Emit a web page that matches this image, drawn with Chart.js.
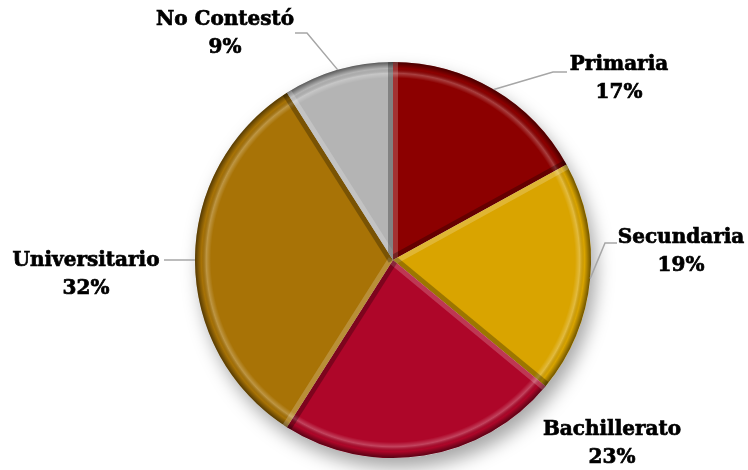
<!DOCTYPE html>
<html>
<head>
<meta charset="utf-8">
<script src="https://cdn.jsdelivr.net/npm/chart.js@4/dist/chart.umd.min.js"></script>
<style>
  html, body { margin: 0; padding: 0; background: #fff; }
  #wrap { width: 748px; height: 470px; position: relative; }
</style>
</head>
<body>
<div id="wrap"><canvas id="chart"></canvas></div>
<script>
var categories = ["Primaria", "Secundaria", "Bachillerato", "Universitario", "No Contestó"];
var percents = [17, 19, 23, 32, 9];
var sliceColors = ["#8c0000", "#d9a400", "#ae0629", "#a87306", "#b4b4b4"];

// where each label goes, relative to the pie centre (first text line centre),
// plus the leader elbow/end points (null = no leader)
var labelSpots = [
  { dx: 226, dy: -195, leader: [[160, -188], [174, -188]] },
  { dx: 288, dy: -22, leader: [[212, -17], [224, -17]] },
  { dx: 219, dy: 170, leader: null },
  { dx: -307, dy: 1, leader: [[-229, 0], [-229, 0]] },
  { dx: -168, dy: -240, leader: [[-86, -227], [-98, -227]] }
];

var shadowPlugin = {
  id: "pieShadow",
  beforeDatasetsDraw: function(chart) {
    var arc = chart.getDatasetMeta(0).data[0];
    if (!arc) return;
    var ctx = chart.ctx;
    ctx.save();
    ctx.shadowColor = "rgba(0,0,0,0.35)";
    ctx.shadowBlur = 18;
    ctx.shadowOffsetX = 5;
    ctx.shadowOffsetY = 10;
    ctx.fillStyle = "#fff";
    ctx.beginPath();
    ctx.arc(arc.x, arc.y, arc.outerRadius, 0, Math.PI * 2);
    ctx.fill();
    ctx.restore();
  }
};

var bevelPlugin = {
  id: "bevel",
  afterDatasetsDraw: function(chart) {
    var ctx = chart.ctx;
    var arcs = chart.getDatasetMeta(0).data;
    arcs.forEach(function(a) {
      var r = a.outerRadius;
      ctx.save();
      ctx.beginPath();
      ctx.moveTo(a.x, a.y);
      ctx.arc(a.x, a.y, r, a.startAngle, a.endAngle);
      ctx.closePath();
      ctx.clip();

      var g = ctx.createRadialGradient(a.x, a.y, r - 16, a.x, a.y, r);
      g.addColorStop(0, "rgba(255,255,255,0)");
      g.addColorStop(0.3, "rgba(255,255,255,0.25)");
      g.addColorStop(0.6, "rgba(0,0,0,0)");
      g.addColorStop(1, "rgba(0,0,0,0.5)");
      ctx.fillStyle = g;
      ctx.fillRect(a.x - r, a.y - r, r * 2, r * 2);

      // radial edges
      ctx.lineWidth = 10;
      ctx.strokeStyle = "rgba(255,255,255,0.2)";
      ctx.beginPath();
      ctx.moveTo(a.x, a.y);
      ctx.lineTo(a.x + r * Math.cos(a.startAngle), a.y + r * Math.sin(a.startAngle));
      ctx.stroke();
      ctx.strokeStyle = "rgba(0,0,0,0.28)";
      ctx.beginPath();
      ctx.moveTo(a.x, a.y);
      ctx.lineTo(a.x + r * Math.cos(a.endAngle), a.y + r * Math.sin(a.endAngle));
      ctx.stroke();
      ctx.restore();
    });
  }
};

var labelPlugin = {
  id: "outLabels",
  afterDraw: function(chart) {
    var ctx = chart.ctx;
    var arcs = chart.getDatasetMeta(0).data;
    ctx.save();
    arcs.forEach(function(a, i) {
      var spot = labelSpots[i];
      if (spot.leader) {
        var mid = (a.startAngle + a.endAngle) / 2;
        ctx.strokeStyle = "#a6a6a6";
        ctx.lineWidth = 1.5;
        ctx.beginPath();
        ctx.moveTo(a.x + a.outerRadius * Math.cos(mid), a.y + a.outerRadius * Math.sin(mid));
        spot.leader.forEach(function(p) {
          ctx.lineTo(a.x + p[0], a.y + p[1]);
        });
        ctx.stroke();
      }
      ctx.fillStyle = "#000";
      ctx.strokeStyle = "#000";
      ctx.lineWidth = 0.7;
      ctx.font = "bold 20px 'DejaVu Serif'";
      ctx.textAlign = "center";
      ctx.textBaseline = "middle";
      var x = a.x + spot.dx, y = a.y + spot.dy;
      ctx.fillText(categories[i], x, y);
      ctx.strokeText(categories[i], x, y);
      ctx.fillText(percents[i] + "%", x, y + 28);
      ctx.strokeText(percents[i] + "%", x, y + 28);
    });
    ctx.restore();
  }
};

new Chart(document.getElementById("chart"), {
  type: "pie",
  data: {
    labels: categories,
    datasets: [{
      data: percents,
      backgroundColor: sliceColors,
      borderWidth: 0
    }]
  },
  options: {
    responsive: true,
    maintainAspectRatio: false,
    animation: false,
    layout: { padding: { left: 38, right: 0, top: 62, bottom: 12 } },
    plugins: {
      legend: { display: false },
      tooltip: { enabled: false }
    }
  },
  plugins: [shadowPlugin, bevelPlugin, labelPlugin]
});
</script>
</body>
</html>
